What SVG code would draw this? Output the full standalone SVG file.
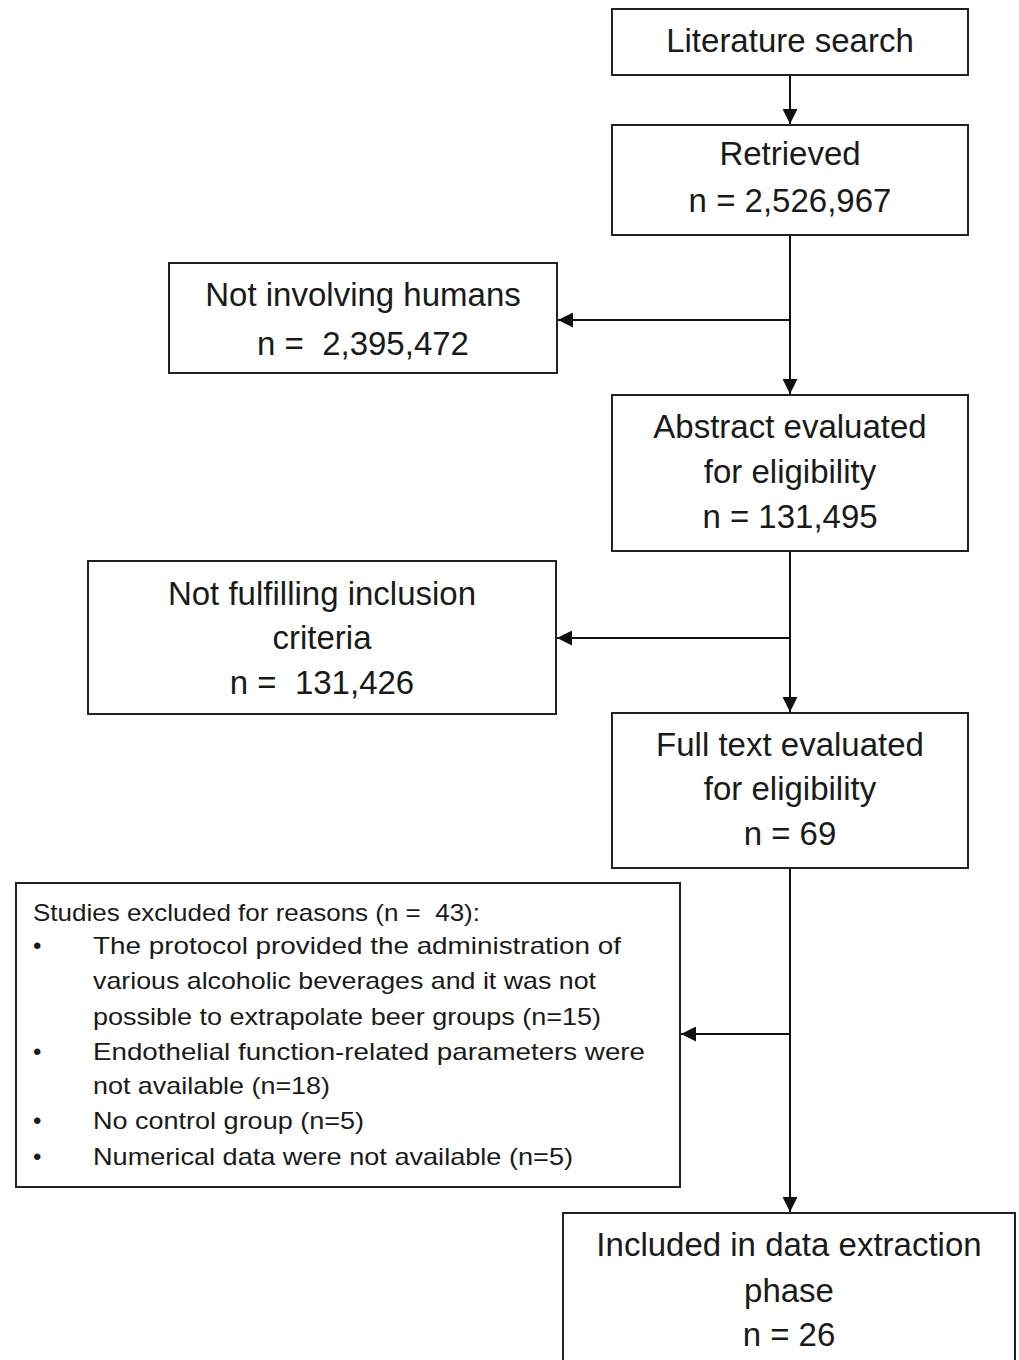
<svg xmlns="http://www.w3.org/2000/svg" width="1019" height="1360" viewBox="0 0 1019 1360">
  <defs>
    <marker id="arrow" viewBox="0 0 10 10" refX="10" refY="5" markerWidth="15" markerHeight="15" markerUnits="userSpaceOnUse" orient="auto">
      <path d="M0,0 L10,5 L0,10 z" fill="#111"/>
    </marker>
    <style>
      .box { fill: #fff; stroke: #222; stroke-width: 2; }
      .t { font-family: "Liberation Sans", Arial, sans-serif; font-size: 33px; fill: #1a1a1a; text-anchor: middle; }
      .s { font-family: "Liberation Sans", Arial, sans-serif; font-size: 24px; fill: #1a1a1a; }
      .conn { stroke: #111; stroke-width: 2; fill: none; }
    </style>
  </defs>
  <rect width="1019" height="1360" fill="#fff"/>

  <g id="connectors">
    <line class="conn" x1="790" y1="75" x2="790" y2="124" marker-end="url(#arrow)"/>
    <line class="conn" x1="790" y1="235" x2="790" y2="394" marker-end="url(#arrow)"/>
    <line class="conn" x1="790" y1="320" x2="558" y2="320" marker-end="url(#arrow)"/>
    <line class="conn" x1="790" y1="551" x2="790" y2="712" marker-end="url(#arrow)"/>
    <line class="conn" x1="790" y1="638" x2="557" y2="638" marker-end="url(#arrow)"/>
    <line class="conn" x1="790" y1="868" x2="790" y2="1212" marker-end="url(#arrow)"/>
    <line class="conn" x1="790" y1="1034" x2="681" y2="1034" marker-end="url(#arrow)"/>
  </g>

  <g id="literature-search">
    <rect class="box" x="612" y="9" width="356" height="66"/>
    <text class="t" x="790" y="52">Literature search</text>
  </g>

  <g id="retrieved">
    <rect class="box" x="612" y="125" width="356" height="110"/>
    <text class="t" x="790" y="165">Retrieved</text>
    <text class="t" x="790" y="212">n = 2,526,967</text>
  </g>

  <g id="not-involving-humans">
    <rect class="box" x="169" y="263" width="388" height="110"/>
    <text class="t" x="363" y="306">Not involving humans</text>
    <text class="t" x="363" y="355" xml:space="preserve">n =  2,395,472</text>
  </g>

  <g id="abstract-evaluated">
    <rect class="box" x="612" y="395" width="356" height="156"/>
    <text class="t" x="790" y="438">Abstract evaluated</text>
    <text class="t" x="790" y="483">for eligibility</text>
    <text class="t" x="790" y="528">n = 131,495</text>
  </g>

  <g id="not-fulfilling">
    <rect class="box" x="88" y="561" width="468" height="153"/>
    <text class="t" x="322" y="605">Not fulfilling inclusion</text>
    <text class="t" x="322" y="649">criteria</text>
    <text class="t" x="322" y="694" xml:space="preserve">n =  131,426</text>
  </g>

  <g id="full-text-evaluated">
    <rect class="box" x="612" y="713" width="356" height="155"/>
    <text class="t" x="790" y="756">Full text evaluated</text>
    <text class="t" x="790" y="800">for eligibility</text>
    <text class="t" x="790" y="845">n = 69</text>
  </g>

  <g id="studies-excluded">
    <rect class="box" x="16" y="883" width="664" height="304"/>
    <text class="s" x="33" y="921" textLength="447" lengthAdjust="spacingAndGlyphs" xml:space="preserve">Studies excluded for reasons (n =  43):</text>
    <text class="s" x="33" y="954">•</text>
    <text class="s" x="93" y="954" textLength="528" lengthAdjust="spacingAndGlyphs">The protocol provided the administration of</text>
    <text class="s" x="93" y="989" textLength="503" lengthAdjust="spacingAndGlyphs">various alcoholic beverages and it was not</text>
    <text class="s" x="93" y="1025" textLength="508" lengthAdjust="spacingAndGlyphs">possible to extrapolate beer groups (n=15)</text>
    <text class="s" x="33" y="1060">•</text>
    <text class="s" x="93" y="1060" textLength="552" lengthAdjust="spacingAndGlyphs">Endothelial function-related parameters were</text>
    <text class="s" x="93" y="1094" textLength="237" lengthAdjust="spacingAndGlyphs">not available (n=18)</text>
    <text class="s" x="33" y="1129">•</text>
    <text class="s" x="93" y="1129" textLength="271" lengthAdjust="spacingAndGlyphs">No control group (n=5)</text>
    <text class="s" x="33" y="1165">•</text>
    <text class="s" x="93" y="1165" textLength="480" lengthAdjust="spacingAndGlyphs">Numerical data were not available (n=5)</text>
  </g>

  <g id="included">
    <rect class="box" x="563" y="1213" width="452" height="160"/>
    <text class="t" x="789" y="1256">Included in data extraction</text>
    <text class="t" x="789" y="1302">phase</text>
    <text class="t" x="789" y="1346">n = 26</text>
  </g>
</svg>
